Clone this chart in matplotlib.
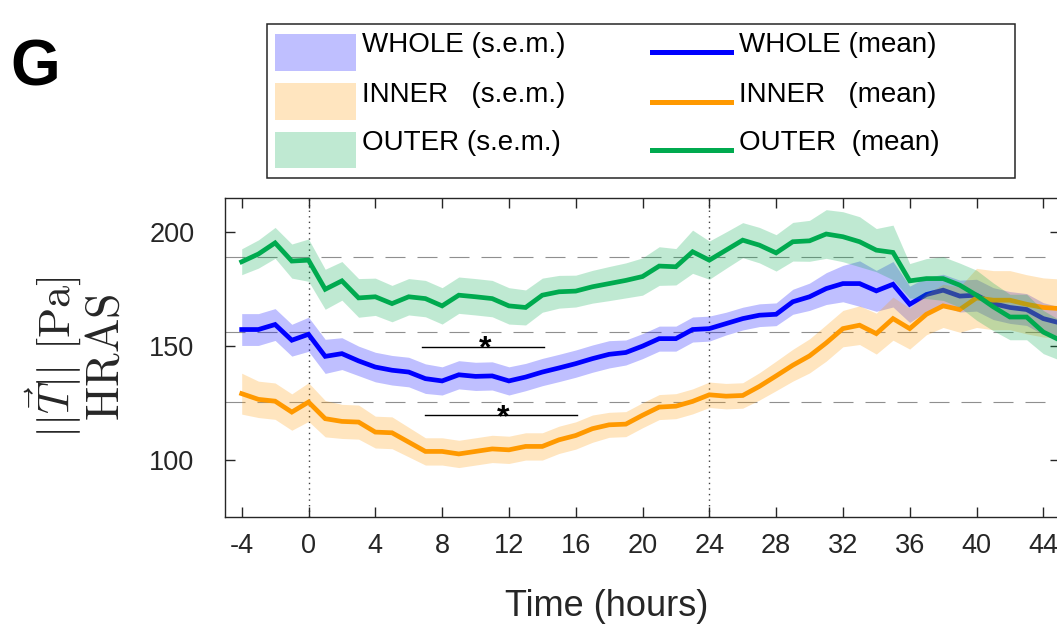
import numpy as np
import matplotlib.pyplot as plt
from matplotlib.patches import Rectangle
from matplotlib.lines import Line2D

plt.rcParams['font.family'] = ['Liberation Sans', 'DejaVu Sans']
plt.rcParams['mathtext.fontset'] = 'cm'
plt.rcParams['axes.unicode_minus'] = False

hours = np.arange(-4, 46)

whole_mean = [157.3, 157.3, 159.5, 152.6, 155.2, 145.5, 146.7, 143.5, 140.8, 139.4,
              138.6, 135.7, 134.7, 137.4, 136.7, 136.9, 134.7, 136.4, 138.6, 140.4,
              142.3, 144.5, 146.4, 147.2, 150.0, 153.3, 153.3, 157.3, 157.7, 159.9,
              162.1, 163.6, 164.0, 169.5, 171.7, 175.3, 177.5, 177.5, 174.3, 177.2,
              168.4, 172.7, 174.6, 172.0, 172.4, 168.7, 167.0, 166.1, 162.1, 160.2]
whole_sem = [7, 7, 7, 7, 7.5, 7.5, 7, 6.5, 6.5, 6.5,
             6.5, 6.5, 6.2, 6.2, 6.2, 6.2, 6.2, 6, 6, 6,
             6, 6, 6, 5.5, 5.5, 5.5, 5.5, 5.5, 5.5, 5,
             5, 5, 5, 5.5, 6, 7, 8, 10, 9, 10,
             8, 7.5, 7, 7, 7, 7, 7, 7, 7, 7]

inner_mean = [129.1, 126.6, 125.8, 121.0, 125.4, 118.1, 116.9, 116.6, 112.2, 111.9,
              107.8, 103.7, 103.7, 102.6, 103.7, 104.8, 104.4, 105.9, 105.9, 108.8,
              110.7, 113.7, 115.4, 115.7, 119.6, 123.2, 123.6, 125.7, 128.6, 128.0,
              128.3, 132.3, 136.9, 141.6, 145.7, 151.4, 157.7, 159.2, 155.5, 162.1,
              157.7, 164.0, 167.7, 166.1, 171.2, 170.2, 170.2, 168.4, 167.0, 166.5]
inner_sem = [9, 8, 8, 8, 8.5, 8, 7.5, 7.5, 7, 7,
             6.5, 6, 6, 6, 6, 6, 6, 6, 6, 6,
             6, 6, 5.5, 5.5, 5.5, 5.5, 5.5, 5.5, 5.6, 5.6,
             5.6, 6, 6.5, 7, 7.5, 8, 8, 8.5, 9, 9.5,
             9, 9, 9.5, 10, 13, 13, 13, 13, 13, 13]

outer_mean = [187.1, 190.5, 195.4, 187.4, 187.8, 175.0, 178.7, 171.2, 171.7, 168.7,
              171.7, 170.9, 167.7, 172.4, 171.7, 170.9, 167.7, 167.0, 172.4, 173.9,
              174.2, 176.1, 177.5, 178.9, 180.6, 185.2, 184.9, 191.5, 187.8, 192.2,
              196.6, 194.4, 191.0, 195.9, 196.3, 199.3, 198.1, 195.9, 192.2, 191.2,
              178.7, 179.7, 179.7, 176.8, 172.4, 167.3, 162.8, 162.8, 156.2, 152.6]
outer_sem = [5.7, 6.2, 6.8, 7.5, 9.3, 8.8, 8.5, 8.5, 8.2, 8.0,
             8.0, 8.0, 8.0, 8.0, 8.0, 8.0, 8.0, 7.7, 7.5, 7.2,
             7.0, 7.2, 7.5, 7.7, 8.2, 8.5, 8.0, 9.5, 8.4, 8.0,
             7.7, 7.8, 8.0, 8.5, 9.0, 10.7, 11.0, 11.0, 9.5, 12.0,
             7.6, 8.8, 9.6, 9.7, 11.0, 10.5, 10.0, 10.0, 9.5, 8.8]

ref_levels = [189.3, 156.4, 125.6]       # dashed reference levels
day_marks = [0, 24]                       # dotted vertical lines
# significance bars: (x start, x end, y, star x)
sig_bars = [(6.8, 14.1, 149.8, 10.57), (7.0, 16.06, 119.5, 11.66)]

groups = [
    ("WHOLE", whole_mean, whole_sem, "#0000ff", "WHOLE (s.e.m.)", "WHOLE (mean)"),
    ("INNER", inner_mean, inner_sem, "#ff9900", "INNER   (s.e.m.)", "INNER   (mean)"),
    ("OUTER", outer_mean, outer_sem, "#00aa4f", "OUTER (s.e.m.)", "OUTER  (mean)"),
]

W, H = 1057, 630


def fx(x):
    return x / W


def fy(y):
    return 1 - y / H


fig = plt.figure(figsize=(W / 100, H / 100), dpi=100)
ax = fig.add_axes([fx(225), fy(516.7), 835 / W, 318.4 / H])

for y in ref_levels:
    ax.axhline(y, color='#8f8f8f', lw=0.8, dashes=(18, 10.8), zorder=1)
for x in day_marks:
    ax.axvline(x, color='#404040', lw=1.0, ls=(0, (1, 3)), zorder=1)

for name, m, s, c, lab_s, lab_m in groups:
    m = np.array(m)
    s = np.array(s)
    ax.fill_between(hours, m - s, m + s, color=c, alpha=0.25, lw=0, zorder=2)
    ax.plot(hours, m, color=c, lw=3.4, zorder=2, solid_joinstyle='miter')

for x0, x1, y, xs in sig_bars:
    ax.plot([x0, x1], [y, y], color='k', lw=1.0, zorder=3)
    ax.annotate('*', xy=(xs, y), xytext=(0, -7.5), textcoords='offset points',
                fontsize=23, fontweight='bold', ha='center', va='baseline', zorder=3)

ax.set_xlim(-5, 45)
ax.set_ylim(75, 215)
ax.set_xticks(np.arange(-4, 45, 4))
ax.set_yticks([100, 150, 200])
ax.tick_params(direction='in', length=7, width=1, top=True, right=True,
               labelsize=19.5, colors='#262626')
ax.tick_params(axis='y', pad=22)
ax.tick_params(axis='x', pad=12)
for sp in ax.spines.values():
    sp.set_color('#262626')
    sp.set_linewidth(1)

ax.set_xlabel('Time (hours)', fontsize=26, color='#262626', va='center')
ax.xaxis.set_label_coords((607 - 225) / 835, -(607 - 516.7) / 318.4)

fig.text(fx(53), fy(357), r'$||\vec{T}||\ [\mathrm{Pa}]$', rotation=90,
         fontsize=32, ha='center', va='center', color='#262626')
fig.text(fx(107), fy(357), r'$\mathrm{HRAS}$', rotation=90,
         fontsize=33, ha='center', va='center', color='#262626')

fig.text(fx(10), fy(85), 'G', fontsize=46, fontweight='bold', ha='left', va='baseline')

# legend box: s.e.m. swatches on the left, mean lines on the right
fig.patches.append(Rectangle((fx(267), fy(178)), 748 / W, 154 / H, transform=fig.transFigure,
                             facecolor='white', edgecolor='#262626', lw=1.1))
row_top = [34, 83.3, 131.7]
for (name, m, s, c, lab_s, lab_m), top in zip(groups, row_top):
    fig.patches.append(Rectangle((fx(275), fy(top + 36.7)), 81 / W, 36.7 / H,
                                 transform=fig.transFigure, facecolor=c, alpha=0.25,
                                 edgecolor='none'))
    mid = top + 18.3
    fig.lines.append(Line2D([fx(652), fx(731)], [fy(mid), fy(mid)],
                            transform=fig.transFigure, color=c, lw=3.6))
    fig.text(fx(362), fy(top + 18.3), lab_s, fontsize=20, va='baseline', ha='left')
    fig.text(fx(739), fy(top + 18.3), lab_m, fontsize=20, va='baseline', ha='left')

fig.savefig('out.png', dpi=100)
